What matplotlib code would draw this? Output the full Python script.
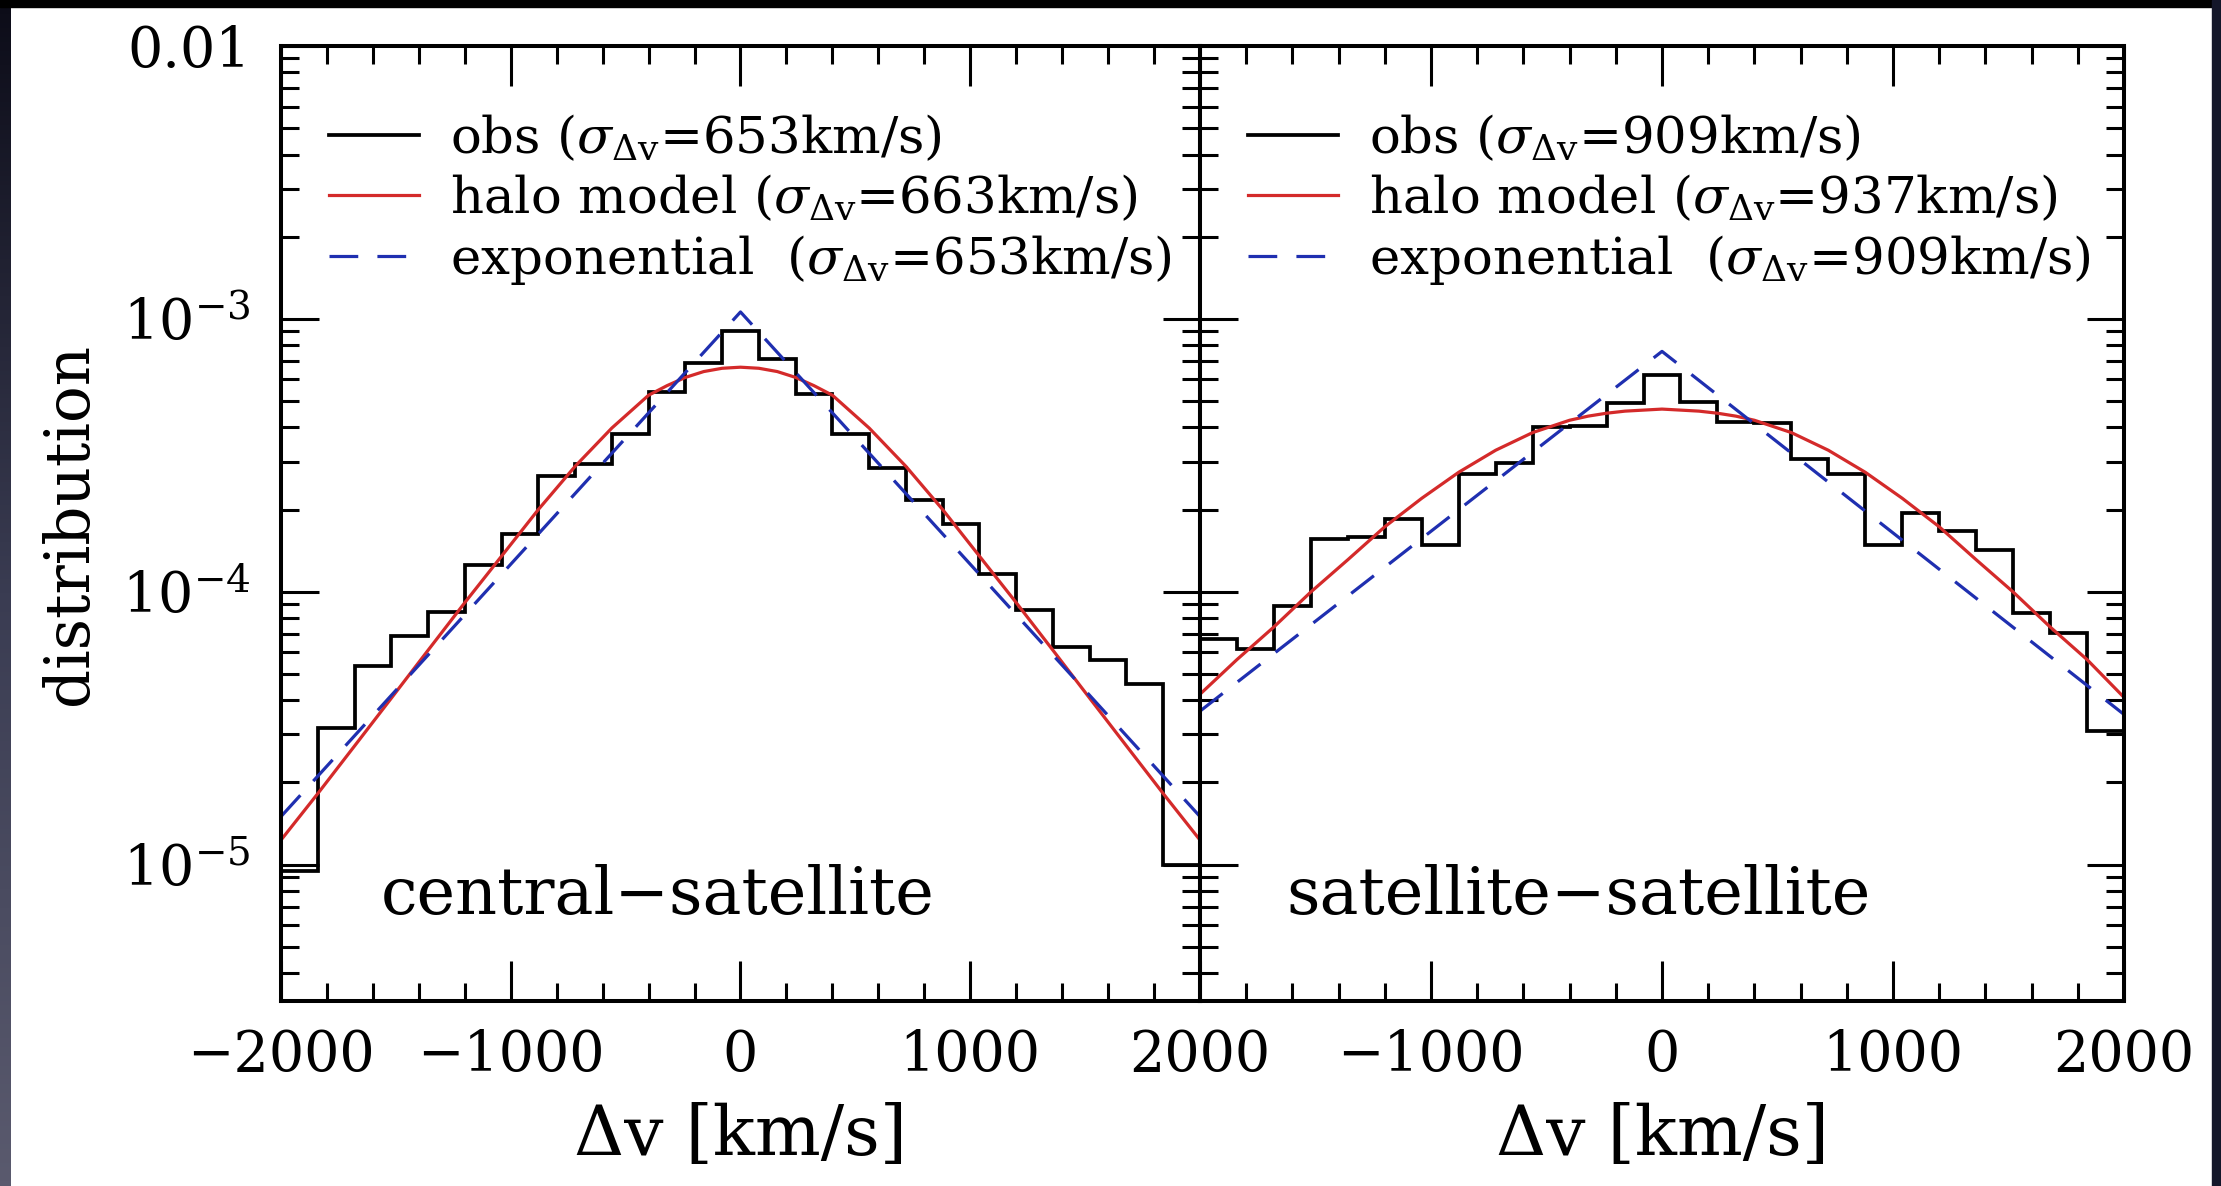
import matplotlib
matplotlib.use("Agg")
import matplotlib.pyplot as plt
import numpy as np
from matplotlib.patches import Rectangle
from matplotlib.ticker import LogLocator, MultipleLocator, NullFormatter

# bin edges of the observed histograms (km/s)
bin_edges = [-2000, -1840, -1680, -1520, -1360, -1200, -1040, -880, -720, -560,
             -400, -240, -80, 80, 240, 400, 560, 720, 880, 1040,
             1200, 1360, 1520, 1680, 1840, 2000]

# central-satellite
obs_cs = [9.5e-6, 3.17e-5, 5.36e-5, 6.88e-5, 8.45e-5, 1.25e-4, 1.63e-4, 2.65e-4, 2.94e-4, 3.77e-4,
          5.41e-4, 6.89e-4, 8.99e-4, 7.13e-4, 5.32e-4, 3.79e-4, 2.84e-4, 2.17e-4, 1.77e-4, 1.16e-4,
          8.59e-5, 6.25e-5, 5.64e-5, 4.58e-5, 1.0e-5]
# satellite-satellite
obs_ss = [6.70e-5, 6.15e-5, 8.83e-5, 1.56e-4, 1.59e-4, 1.84e-4, 1.48e-4, 2.71e-4, 2.96e-4, 4.01e-4,
          4.06e-4, 4.91e-4, 6.21e-4, 4.96e-4, 4.18e-4, 4.15e-4, 3.06e-4, 2.69e-4, 1.48e-4, 1.94e-4,
          1.67e-4, 1.42e-4, 8.39e-5, 7.06e-5, 3.08e-5]

# halo model curves
v_model = [-2000, -1840, -1680, -1520, -1360, -1200, -1040, -880, -720, -560, -400, -320, -240, -160, -80, 0,
           80, 160, 240, 320, 400, 560, 720, 880, 1040, 1200, 1360, 1520, 1680, 1840, 2000]
halo_cs = [1.23e-5, 1.82e-5, 2.72e-5, 4.07e-5, 6.10e-5, 9.12e-5, 1.35e-4, 2.00e-4, 2.88e-4, 3.98e-4,
           5.25e-4, 5.69e-4, 6.10e-4, 6.41e-4, 6.59e-4, 6.65e-4,
           6.59e-4, 6.41e-4, 6.10e-4, 5.69e-4, 5.25e-4, 3.98e-4, 2.88e-4, 2.00e-4, 1.35e-4, 9.12e-5,
           6.10e-5, 4.07e-5, 2.72e-5, 1.82e-5, 1.23e-5]
halo_ss = [4.21e-5, 5.64e-5, 7.43e-5, 9.98e-5, 1.31e-4, 1.73e-4, 2.20e-4, 2.74e-4, 3.30e-4, 3.83e-4,
           4.25e-4, 4.40e-4, 4.51e-4, 4.59e-4, 4.63e-4, 4.67e-4,
           4.63e-4, 4.59e-4, 4.51e-4, 4.40e-4, 4.25e-4, 3.83e-4, 3.30e-4, 2.74e-4, 2.20e-4, 1.73e-4,
           1.31e-4, 9.98e-5, 7.43e-5, 5.64e-5, 4.10e-5]

# exponential fits
v_exp = [-2000, 0, 2000]
exp_cs = [1.5e-5, 1.06e-3, 1.5e-5]
exp_ss = [3.65e-5, 7.6e-4, 3.55e-5]

sigma_cs = [653, 663, 653]
sigma_ss = [909, 937, 909]
panel_names = ["central\u2212satellite", "satellite\u2212satellite"]

x_ticks = [-2000, -1000, 0, 1000, 2000]
x_labels_left = ["\u22122000", "\u22121000", "0", "1000", "2000"]
x_labels_right = ["", "\u22121000", "0", "1000", "2000"]
y_ticks = [1e-5, 1e-4, 1e-3, 1e-2]
y_labels = ["$10^{-5}$", "$10^{-4}$", "$10^{-3}$", "0.01"]

RED = "#d42a2a"
BLUE = "#1f2fb0"

plt.rcParams["font.family"] = ["DejaVu Serif"]
plt.rcParams["mathtext.fontset"] = "dejavuserif"


def style_axis(ax, xlabels, show_ylabels):
    ax.set_yscale("log")
    ax.set_xlim(-2000, 2000)
    ax.set_ylim(10 ** -5.5, 1e-2)
    ax.set_xticks(x_ticks)
    ax.set_xticklabels(xlabels)
    ax.xaxis.set_minor_locator(MultipleLocator(200))
    ax.set_yticks(y_ticks)
    ax.set_yticklabels(y_labels if show_ylabels else [])
    ax.yaxis.set_minor_locator(LogLocator(base=10, subs=np.arange(2, 10)))
    ax.yaxis.set_minor_formatter(NullFormatter())
    ax.tick_params(which="both", direction="in", top=True, right=True, width=2.2, colors="black")
    ax.tick_params(axis="x", which="major", length=29, labelsize=40, pad=20)
    ax.tick_params(axis="x", which="minor", length=13)
    ax.tick_params(axis="y", which="major", length=27, labelsize=40, pad=22)
    ax.tick_params(axis="y", which="minor", length=13)
    for sp in ax.spines.values():
        sp.set_linewidth(2.9)
    ax.set_xlabel("\u0394v [km/s]", fontsize=50, labelpad=14)


def draw_panel(ax, obs, halo, expo, sig, name):
    ax.stairs(obs, bin_edges, baseline=None, color="black", lw=2.7,
              label=r"obs ($\sigma_{\Delta\mathrm{v}}$=%dkm/s)" % sig[0])
    ax.plot(v_model, halo, color=RED, lw=2.3,
            label=r"halo model ($\sigma_{\Delta\mathrm{v}}$=%dkm/s)" % sig[1])
    ax.plot(v_exp, expo, color=BLUE, lw=2.3, linestyle=(0, (9, 6)),
            label=r"exponential  ($\sigma_{\Delta\mathrm{v}}$=%dkm/s)" % sig[2])
    ax.legend(loc="upper left", bbox_to_anchor=(0.052, 0.93), frameon=False, fontsize=37,
              handlelength=1.75, handletextpad=0.6, labelspacing=0.18, borderpad=0, borderaxespad=0)
    ax.text(0.41, 0.11, name, transform=ax.transAxes, ha="center", va="center", fontsize=47)


def add_frame(fig):
    # dark slide border around the figure
    fig.add_artist(Rectangle((0, 1 - 7 / 1186), 1, 7 / 1186, transform=fig.transFigure,
                             color="black", zorder=10))
    fig.add_artist(Rectangle((2212 / 2221, 0), 9 / 2221, 1, transform=fig.transFigure,
                             color="#14172a", zorder=10))
    strip = fig.add_axes([0, 0, 11 / 2221, 1])
    grad = np.linspace(0, 1, 256).reshape(-1, 1)
    strip.imshow(grad, aspect="auto", cmap=matplotlib.colors.LinearSegmentedColormap.from_list(
        "strip", ["#0c0c18", "#3a3c52", "#5a5a6e"]), origin="upper")
    strip.set_axis_off()


def main():
    fig = plt.figure(figsize=(22.21, 11.86), dpi=100)
    fig.patch.set_facecolor("white")
    ax1 = fig.add_axes([281 / 2221, 1 - 1001 / 1186, 919 / 2221, 955 / 1186])
    ax2 = fig.add_axes([1200 / 2221, 1 - 1001 / 1186, 924 / 2221, 955 / 1186])

    draw_panel(ax1, obs_cs, halo_cs, exp_cs, sigma_cs, panel_names[0])
    draw_panel(ax2, obs_ss, halo_ss, exp_ss, sigma_ss, panel_names[1])
    style_axis(ax1, x_labels_left, True)
    style_axis(ax2, x_labels_right, False)
    ax1.set_ylabel("distribution", fontsize=44, labelpad=16)

    add_frame(fig)
    fig.savefig("out.png", dpi=100, facecolor="white")


if __name__ == "__main__":
    main()
